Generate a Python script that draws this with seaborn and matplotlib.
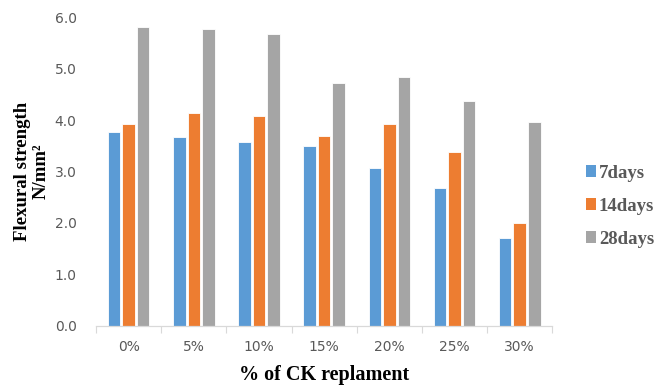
import matplotlib
matplotlib.use("Agg")
import matplotlib.pyplot as plt
from matplotlib.patches import Patch
import numpy as np
import pandas as pd
import seaborn as sns

# Flexural strength (N/mm²) by percentage of CK replacement and curing age
replacement = ["0%", "5%", "10%", "15%", "20%", "25%", "30%"]
days7 = [3.77, 3.68, 3.57, 3.50, 3.07, 2.68, 1.71]
days14 = [3.92, 4.14, 4.08, 3.70, 3.92, 3.39, 2.00]
days28 = [5.82, 5.78, 5.67, 4.73, 4.84, 4.37, 3.97]
series = ["7days", "14days", "28days"]
colors = ["#5B9BD5", "#ED7D31", "#A5A5A5"]

df = pd.DataFrame({
    "replacement": replacement * 3,
    "strength": days7 + days14 + days28,
    "age": [s for s in series for _ in replacement],
})

sns.set_theme(style="white")
plt.rcParams["font.family"] = ["DejaVu Sans"]

fig = plt.figure(figsize=(6.67, 3.86), dpi=100)
ax = fig.add_axes([0.144, 0.156, 0.684, 0.799])

sns.barplot(data=df, x="replacement", y="strength", hue="age",
            order=replacement, hue_order=series, palette=colors,
            saturation=1, width=0.67, gap=0.14, edgecolor="white",
            linewidth=0.6, errorbar=None, ax=ax, legend=False)

ax.set_ylim(0, 6.0)
ax.set_xlim(-0.5, len(replacement) - 0.5)
ax.set_yticks(np.arange(0, 6.01, 1.0))
ax.set_yticklabels([f"{v:.1f}" for v in np.arange(0, 6.01, 1.0)])
ax.tick_params(axis="y", length=0, labelsize=10, labelcolor="#595959", pad=14)
ax.tick_params(axis="x", which="major", length=0, labelsize=10,
               labelcolor="#595959", pad=10)
ax.set_xticks(np.arange(-0.5, len(replacement), 1.0), minor=True)
ax.tick_params(axis="x", which="minor", length=5, width=0.8, color="#D9D9D9",
               bottom=True)

for side in ["top", "right", "left"]:
    ax.spines[side].set_visible(False)
ax.spines["bottom"].set_color("#D9D9D9")
ax.spines["bottom"].set_linewidth(0.9)
ax.grid(False)

serif_bold = dict(family="Liberation Serif", weight="bold", color="black")
ax.set_xlabel("% of CK replament", fontsize=14.5, labelpad=8, **serif_bold)
ax.set_ylabel("Flexural strength\nN/mm²", fontsize=13.5,
              labelpad=3.5, linespacing=1.1, **serif_bold)

handles = [Patch(facecolor=c, edgecolor="none") for c in colors]
fig.legend(handles, series, loc="upper left", bbox_to_anchor=(0.853, 0.617),
           frameon=False, handlelength=0.55, handleheight=0.55,
           handletextpad=0.15, labelspacing=0.85,
           prop=dict(family="Liberation Serif", weight="bold", size=13.5),
           labelcolor="#595959")

fig.savefig("out.png", dpi=100)
